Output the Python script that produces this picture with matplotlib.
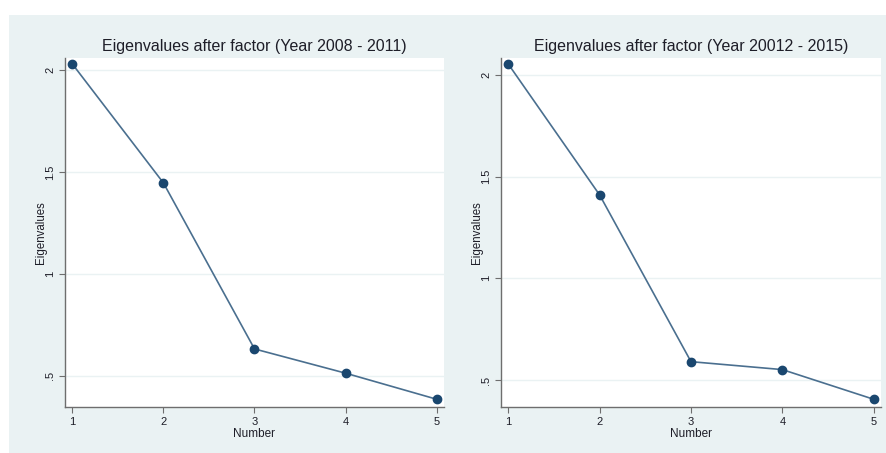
import numpy as np
import matplotlib.pyplot as plt
from matplotlib.patches import Rectangle

plt.rcParams['font.family'] = ['Liberation Sans', 'DejaVu Sans']

# scree data for the two periods
number = [1, 2, 3, 4, 5]
eig_0811 = [2.03, 1.446, 0.631, 0.512, 0.384]
eig_1215 = [2.054, 1.41, 0.59, 0.551, 0.405]
titles = ['Eigenvalues after factor (Year 2008 - 2011)',
          'Eigenvalues after factor (Year 20012 - 2015)']
yticks = [0.5, 1, 1.5, 2]
ytick_labels = ['.5', '1', '1.5', '2']
ylims = [(0.346, 2.059), (0.367, 2.084)]

W, H = 887, 453
fig = plt.figure(figsize=(W / 100, H / 100), dpi=100)
fig.patch.set_facecolor('white')
# light graph-region background behind both plots
fig.add_artist(Rectangle((9 / W, 0), 1 - 9 / W, (H - 15) / H,
                         transform=fig.transFigure, facecolor='#eaf2f3',
                         edgecolor='none', zorder=-5))

boxes = [(65, 444), (501, 881)]
top, bottom = 58, 407
navy = '#1a476f'
axcol = '#6e6e6e'
txt = '#1e1e28'

for k, (x0, x1) in enumerate(boxes):
    ax = fig.add_axes([x0 / W, (H - bottom) / H, (x1 - x0) / W, (bottom - top) / H])
    ax.set_facecolor('white')
    vals = eig_0811 if k == 0 else eig_1215
    for yv in yticks:
        ax.axhline(yv, color='#eaf2f3', lw=1.0, zorder=1)
    ax.plot(number, vals, color='#4a6f8f', lw=1.2, zorder=2)
    ax.plot(number, vals, 'o', color=navy, ms=6, zorder=3)
    ax.set_xlim(0.92, 5.08)
    ax.set_ylim(*ylims[k])
    ax.set_xticks(number)
    ax.set_yticks(yticks)
    ax.set_yticklabels(ytick_labels, rotation=90, va='center')
    ax.tick_params(axis='both', labelsize=8, colors=axcol, labelcolor=txt,
                   length=4, width=0.8, pad=3)
    for s in ['top', 'right']:
        ax.spines[s].set_visible(False)
    for s in ['left', 'bottom']:
        ax.spines[s].set_color(axcol)
        ax.spines[s].set_linewidth(1.0)
    ax.set_xlabel('Number', fontsize=8.5, color=txt, labelpad=1)
    ax.set_ylabel('Eigenvalues', fontsize=8.3, color=txt, labelpad=-1)
    ax.set_title(titles[k], fontsize=11.5, color=txt, pad=5)

fig.savefig('out.png', dpi=100)
